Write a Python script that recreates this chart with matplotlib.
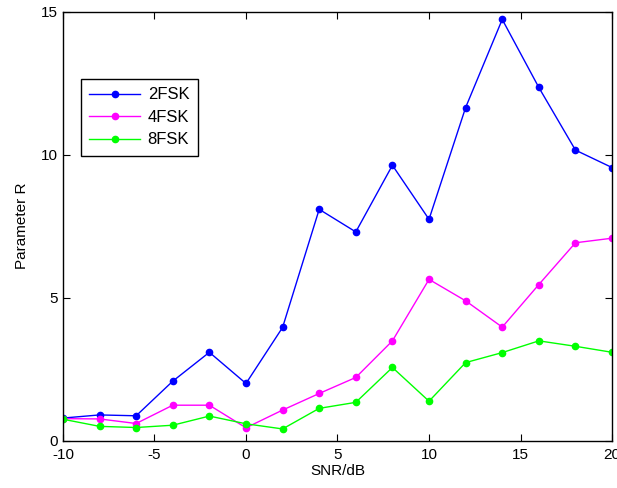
import matplotlib
matplotlib.use('Agg')
import matplotlib.pyplot as plt

snr = [-10, -8, -6, -4, -2, 0, 2, 4, 6, 8, 10, 12, 14, 16, 18, 20]
fsk2 = [0.79, 0.90, 0.87, 2.08, 3.09, 2.00, 3.96, 8.09, 7.30, 9.63, 7.74, 11.65, 14.73, 12.35, 10.16, 9.55]
fsk4 = [0.77, 0.76, 0.60, 1.24, 1.24, 0.45, 1.07, 1.65, 2.21, 3.49, 5.64, 4.89, 3.97, 5.46, 6.92, 7.08]
fsk8 = [0.75, 0.50, 0.46, 0.54, 0.86, 0.59, 0.41, 1.13, 1.34, 2.56, 1.38, 2.73, 3.08, 3.49, 3.30, 3.09]

plt.rcParams['font.family'] = ['Liberation Sans', 'DejaVu Sans']
plt.rcParams['font.size'] = 11
plt.rcParams['axes.unicode_minus'] = False

fig = plt.figure(figsize=(6.17, 4.88), dpi=100)
ax = fig.add_axes([0.102, 0.097, 0.89, 0.879])

ax.plot(snr, fsk2, '-o', color='#0000ff', lw=1, ms=4.5, label='2FSK')
ax.plot(snr, fsk4, '-o', color='#ff00ff', lw=1, ms=4.5, label='4FSK')
ax.plot(snr, fsk8, '-o', color='#00ff00', lw=1, ms=4.5, label='8FSK')

ax.set_xlim(-10, 20)
ax.set_ylim(0, 15)
ax.set_xticks([-10, -5, 0, 5, 10, 15, 20])
ax.set_yticks([0, 5, 10, 15])
ax.tick_params(direction='in', top=True, right=True, length=5, width=0.8)
ax.tick_params(axis='x', pad=5)
ax.tick_params(axis='y', pad=4)
for s in ax.spines.values():
    s.set_linewidth(1)
ax.set_xlabel('SNR/dB', labelpad=2)
ax.set_ylabel('Parameter R', labelpad=8)

leg = ax.legend(loc='upper left', bbox_to_anchor=(0.033, 0.843), fancybox=False,
                edgecolor='black', framealpha=1, borderaxespad=0,
                handlelength=3.05, handletextpad=0.45, labelspacing=0.45,
                borderpad=0.5, fontsize=12)
leg.get_frame().set_linewidth(1)

fig.savefig('out.png', dpi=100)
